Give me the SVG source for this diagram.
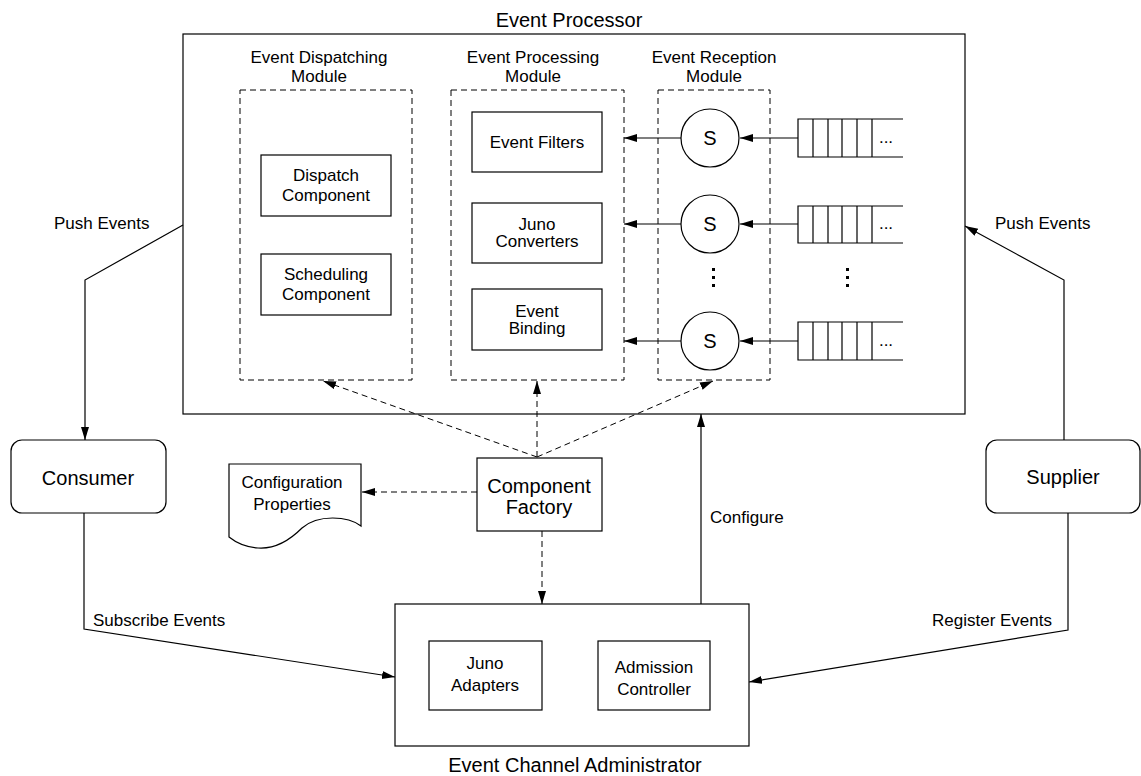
<svg xmlns="http://www.w3.org/2000/svg" width="1141" height="776" viewBox="0 0 1141 776">
  <style>
    text { font-family: "Liberation Sans", Arial, Helvetica, sans-serif; fill: #000; }
    .t17 { font-size: 17px; }
    .t20 { font-size: 20px; }
    .mid { text-anchor: middle; }
    .box { fill: #fff; stroke: #000; stroke-width: 1.2; }
    .dbox { fill: none; stroke: #000; stroke-width: 1; stroke-dasharray: 6 4; }
    .line { fill: none; stroke: #000; stroke-width: 1.2; }
    .dline { fill: none; stroke: #000; stroke-width: 1; stroke-dasharray: 6 4; }
    .dot { fill: #000; }
  </style>
  <defs>
    <marker id="arrow" markerUnits="userSpaceOnUse" markerWidth="14" markerHeight="10" refX="13" refY="4" orient="auto">
      <path d="M0,0 L13,4 L0,8 Z" fill="#000"/>
    </marker>
  </defs>

  <rect width="1141" height="776" fill="#fff"/>

  <!-- Event Processor container -->
  <g id="event-processor">
    <rect class="box" x="183" y="34" width="782" height="380"/>
    <text class="t20 mid" x="569" y="27">Event Processor</text>
  </g>

  <!-- Event Dispatching Module -->
  <g id="dispatching-module">
    <rect class="dbox" x="240" y="90" width="172" height="290"/>
    <text class="t17 mid" x="319" y="63">Event Dispatching</text>
    <text class="t17 mid" x="319" y="82">Module</text>
  </g>
  <g id="dispatch-component">
    <rect class="box" x="261" y="155" width="130" height="61"/>
    <text class="t17 mid" x="326" y="181">Dispatch</text>
    <text class="t17 mid" x="326" y="201">Component</text>
  </g>
  <g id="scheduling-component">
    <rect class="box" x="261" y="254" width="130" height="61"/>
    <text class="t17 mid" x="326" y="280">Scheduling</text>
    <text class="t17 mid" x="326" y="300">Component</text>
  </g>

  <!-- Event Processing Module -->
  <g id="processing-module">
    <rect class="dbox" x="451" y="90" width="173" height="290"/>
    <text class="t17 mid" x="533" y="63">Event Processing</text>
    <text class="t17 mid" x="533" y="82">Module</text>
  </g>
  <g id="event-filters">
    <rect class="box" x="472" y="112" width="130" height="60"/>
    <text class="t17 mid" x="537" y="148">Event Filters</text>
  </g>
  <g id="juno-converters">
    <rect class="box" x="472" y="203" width="130" height="60"/>
    <text class="t17 mid" x="537" y="230">Juno</text>
    <text class="t17 mid" x="537" y="247">Converters</text>
  </g>
  <g id="event-binding">
    <rect class="box" x="472" y="289" width="130" height="61"/>
    <text class="t17 mid" x="537" y="317">Event</text>
    <text class="t17 mid" x="537" y="334">Binding</text>
  </g>

  <!-- Event Reception Module -->
  <g id="reception-module">
    <rect class="dbox" x="658" y="90" width="112" height="290"/>
    <text class="t17 mid" x="714" y="63">Event Reception</text>
    <text class="t17 mid" x="714" y="82">Module</text>
    <rect class="dot" x="712" y="268" width="3" height="3"/>
    <rect class="dot" x="712" y="276" width="3" height="3"/>
    <rect class="dot" x="712" y="284" width="3" height="3"/>
  </g>
  <g id="supplier-proxy-1">
    <circle class="box" cx="710" cy="138" r="29"/>
    <text class="t20 mid" x="710" y="145">S</text>
  </g>
  <g id="supplier-proxy-2">
    <circle class="box" cx="710" cy="224" r="29"/>
    <text class="t20 mid" x="710" y="231">S</text>
  </g>
  <g id="supplier-proxy-3">
    <circle class="box" cx="710" cy="341" r="29"/>
    <text class="t20 mid" x="710" y="348">S</text>
  </g>

  <!-- Input queues -->
  <g id="queue-1">
    <path class="line" d="M903,119 H798 V157 H903 M813,119 V157 M828,119 V157 M842,119 V157 M857,119 V157 M872,119 V157"/>
    <text class="t17 mid" x="886" y="143">...</text>
  </g>
  <g id="queue-2">
    <path class="line" d="M903,206 H798 V243 H903 M813,206 V243 M828,206 V243 M842,206 V243 M857,206 V243 M872,206 V243"/>
    <text class="t17 mid" x="886" y="229">...</text>
  </g>
  <g id="queue-3">
    <path class="line" d="M903,322 H798 V360 H903 M813,322 V360 M828,322 V360 M842,322 V360 M857,322 V360 M872,322 V360"/>
    <text class="t17 mid" x="886" y="346">...</text>
  </g>
  <g id="queue-ellipsis">
    <rect class="dot" x="846" y="268" width="3" height="3"/>
    <rect class="dot" x="846" y="276" width="3" height="3"/>
    <rect class="dot" x="846" y="284" width="3" height="3"/>
  </g>

  <!-- Consumer / Supplier -->
  <g id="consumer">
    <rect class="box" x="11" y="440" width="155" height="73" rx="11"/>
    <text class="t20 mid" x="88" y="485">Consumer</text>
  </g>
  <g id="supplier">
    <rect class="box" x="986" y="440" width="154" height="73" rx="11"/>
    <text class="t20 mid" x="1063" y="484">Supplier</text>
  </g>

  <!-- Component Factory -->
  <g id="component-factory">
    <rect class="box" x="477" y="458" width="125" height="73"/>
    <text class="t20 mid" x="539" y="493">Component</text>
    <text class="t20 mid" x="539" y="514">Factory</text>
  </g>

  <!-- Configuration Properties document -->
  <g id="configuration-properties">
    <path class="box" d="M229,464 H361 V526 C348,516 318,514 302,528 C288,542 272,549 258,548 C244,547 234,541 229,537 Z"/>
    <text class="t17 mid" x="292" y="488">Configuration</text>
    <text class="t17 mid" x="292" y="510">Properties</text>
  </g>

  <!-- Event Channel Administrator -->
  <g id="event-channel-administrator">
    <rect class="box" x="395" y="604" width="354" height="142"/>
    <text class="t20 mid" x="575" y="772">Event Channel Administrator</text>
  </g>
  <g id="juno-adapters">
    <rect class="box" x="429" y="641" width="113" height="69"/>
    <text class="t17 mid" x="485" y="669">Juno</text>
    <text class="t17 mid" x="485" y="691">Adapters</text>
  </g>
  <g id="admission-controller">
    <rect class="box" x="598" y="641" width="112" height="69"/>
    <text class="t17 mid" x="654" y="673">Admission</text>
    <text class="t17 mid" x="654" y="695">Controller</text>
  </g>

  <!-- Connectors -->
  <g id="connectors">
    <!-- queues into supplier proxies -->
    <line class="line" x1="798" y1="138" x2="740" y2="138" marker-end="url(#arrow)"/>
    <line class="line" x1="798" y1="224" x2="740" y2="224" marker-end="url(#arrow)"/>
    <line class="line" x1="798" y1="341" x2="740" y2="341" marker-end="url(#arrow)"/>
    <!-- supplier proxies into processing module -->
    <line class="line" x1="681" y1="138" x2="624" y2="138" marker-end="url(#arrow)"/>
    <line class="line" x1="681" y1="224" x2="624" y2="224" marker-end="url(#arrow)"/>
    <line class="line" x1="681" y1="341" x2="624" y2="341" marker-end="url(#arrow)"/>

    <!-- push events out to consumer -->
    <polyline class="line" points="183,225 85,280 85,440" marker-end="url(#arrow)"/>
    <text class="t17" x="54" y="229">Push Events</text>
    <!-- push events in from supplier -->
    <polyline class="line" points="1064,440 1064,280 965,226" marker-end="url(#arrow)"/>
    <text class="t17" x="995" y="229">Push Events</text>

    <!-- subscribe / register -->
    <polyline class="line" points="84,513 84,629 395,677" marker-end="url(#arrow)"/>
    <text class="t17" x="93" y="626">Subscribe Events</text>
    <polyline class="line" points="1068,513 1068,630 749,682" marker-end="url(#arrow)"/>
    <text class="t17" text-anchor="end" x="1052" y="626">Register Events</text>

    <!-- configure -->
    <line class="line" x1="701" y1="604" x2="701" y2="414" marker-end="url(#arrow)"/>
    <text class="t17" x="710" y="523">Configure</text>

    <!-- component factory creations -->
    <line class="dline" x1="537" y1="457" x2="323" y2="381" marker-end="url(#arrow)"/>
    <line class="dline" x1="537" y1="457" x2="537" y2="381" marker-end="url(#arrow)"/>
    <line class="dline" x1="537" y1="457" x2="713" y2="381" marker-end="url(#arrow)"/>
    <line class="dline" x1="477" y1="492" x2="362" y2="492" marker-end="url(#arrow)"/>
    <line class="dline" x1="542" y1="531" x2="542" y2="604" marker-end="url(#arrow)"/>
  </g>
</svg>
